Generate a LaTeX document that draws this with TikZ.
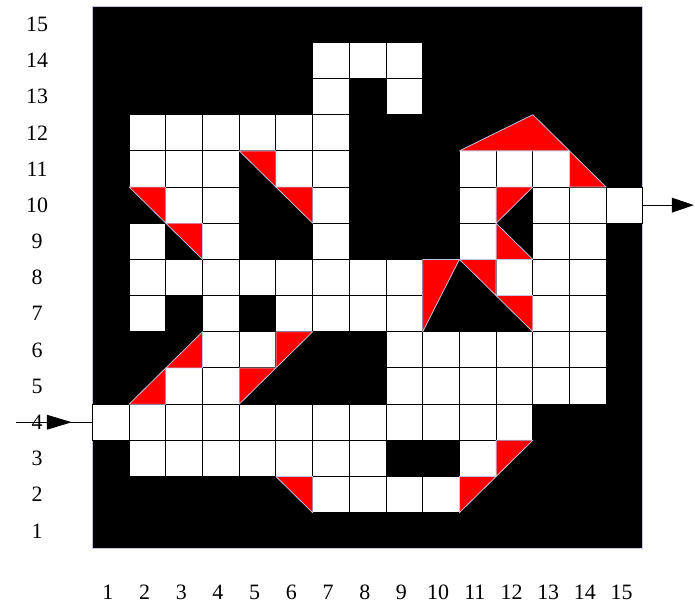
\documentclass[tikz,border=0pt]{standalone}
\usepackage{fontspec}
\setmainfont{Liberation Serif}
\usetikzlibrary{arrows.meta,decorations.markings}
\definecolor{mazered}{RGB}{255,0,0}
\definecolor{edgelilac}{RGB}{196,196,228}

\begin{document}
\begin{tikzpicture}[x=1cm, y=0.986cm,
  cell/.style={fill=white, draw=black, line width=0.8pt},
  wedge/.style={fill=mazered, draw=edgelilac, line width=0.6pt, line join=round},
  num/.style={font=\fontsize{17}{17}\selectfont, inner sep=0pt},
  flow/.style={line width=0.9pt}
]
\useasboundingbox (-2.52,-1.52) rectangle (16.42,15.17);
\fill[black, draw=edgelilac, line width=0.8pt] (0,0) rectangle (15,15);

% open cells, row by row
\foreach \r/\cols in {14/{7,8,9}, 13/{7,9}, 12/{2,3,4,5,6,7},
    11/{2,3,4,6,7,11,12,13}, 10/{3,4,7,11,13,14,15}, 9/{2,4,7,11,13,14},
    8/{2,3,4,5,6,7,8,9,12,13,14}, 7/{2,4,6,7,8,9,13,14},
    6/{4,5,9,10,11,12,13,14}, 5/{3,4,9,10,11,12,13,14},
    4/{1,2,3,4,5,6,7,8,9,10,11,12}, 3/{2,3,4,5,6,7,8,11}, 2/{7,8,9,10}}
  \foreach \c in \cols
    \draw[cell] (\c-1,\r-1) rectangle (\c,\r);

% red corners
\foreach \ax/\ay/\bx/\by/\cx/\cy in {10/11/12/12/13/11, 13/11/13/10/14/10,
    4/11/5/11/5/10, 5/10/6/10/6/9, 1/10/2/10/2/9, 2/9/3/9/3/8,
    11/10/12/10/11/9, 11/9/11/8/12/8, 9/8/10/8/9/6, 10/8/11/8/11/7,
    11/7/12/7/12/6, 3/6/3/5/2/5, 2/5/2/4/1/4, 5/6/6/6/5/5, 4/5/5/5/4/4,
    5/2/6/2/6/1, 11/3/12/3/11/2, 10/2/11/2/10/1}
  \draw[wedge] (\ax,\ay) -- (\bx,\by) -- (\cx,\cy) -- cycle;

% labels
\foreach \r in {1,...,15}
  \node[num] (row\r) at (-1.51,\r-0.5) {\r};
\foreach \c in {1,...,15}
  \node[num] (col\c) at (\c-0.58,-1.2) {\c};

% way in and way out
\coordinate (src) at (-2.08,3.5);
\coordinate (entry) at (0,3.5);
\coordinate (exit) at (15,9.5);
\coordinate (sink) at (16.39,9.5);
\draw[flow, postaction={decorate}, decoration={markings,
    mark=at position 0.73 with {\arrow{Triangle[length=0.68cm,width=0.4cm]}}}]
  (src) -- (entry);
\draw[flow, -{Triangle[length=0.6cm,width=0.4cm]}] (exit) -- (sink);
\end{tikzpicture}
\end{document}
